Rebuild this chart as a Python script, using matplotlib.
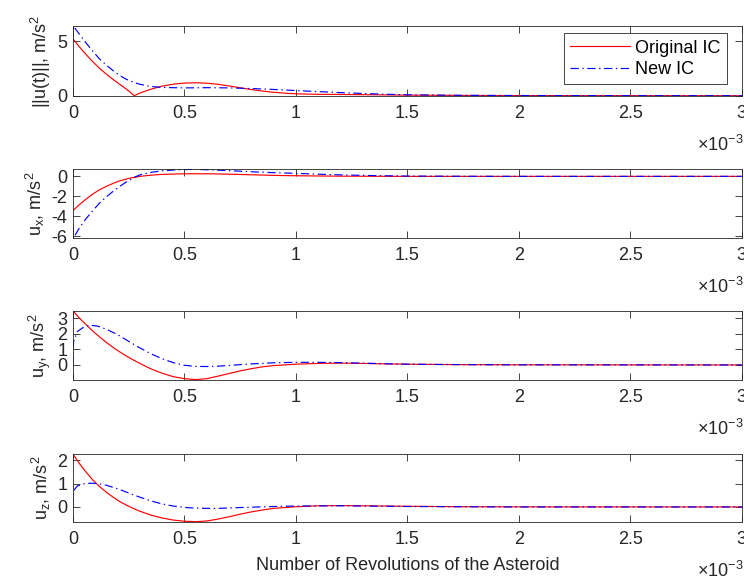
import numpy as np
import matplotlib
matplotlib.use("Agg")
import matplotlib.pyplot as plt
from matplotlib.ticker import FuncFormatter

plt.rcParams['font.family'] = ['Liberation Sans', 'DejaVu Sans']
plt.rcParams['mathtext.fontset'] = 'custom'
plt.rcParams['mathtext.rm'] = 'Liberation Sans'
plt.rcParams['mathtext.default'] = 'regular'
plt.rcParams['axes.unicode_minus'] = False

SCALE = 1e-3  # time axis is in revolutions, ticks shown in units of 1e-3

# ||u(t)||
t_norm_orig = [0, 0.02, 0.04, 0.06, 0.08, 0.10, 0.12, 0.14, 0.17, 0.21, 0.25, 0.275, 0.30,
               0.35, 0.40, 0.45, 0.50, 0.55, 0.60, 0.65, 0.70, 0.75, 0.80, 0.85, 0.90, 0.95,
               1.00, 1.10, 1.20, 1.30, 1.40, 1.50, 1.75, 2.0, 2.5, 3.0]
norm_orig = [5.2, 4.7, 4.2, 3.75, 3.3, 2.9, 2.5, 2.15, 1.65, 1.05, 0.45, 0.0, 0.25,
             0.6, 0.88, 1.06, 1.16, 1.19, 1.15, 1.05, 0.9, 0.73, 0.57, 0.43, 0.32, 0.24,
             0.18, 0.13, 0.12, 0.1, 0.08, 0.06, 0.03, 0.02, 0.01, 0.005]
t_norm_new = [0, 0.003, 0.03, 0.06, 0.09, 0.12, 0.15, 0.18, 0.21, 0.24, 0.27, 0.30, 0.35, 0.40,
              0.50, 0.60, 0.70, 0.80, 0.90, 1.00, 1.10, 1.20, 1.30, 1.40, 1.50, 1.75, 2.0,
              2.5, 3.0]
norm_new = [5.0, 6.35, 5.6, 4.8, 4.05, 3.35, 2.8, 2.3, 1.85, 1.5, 1.25, 1.05, 0.85, 0.76,
            0.72, 0.74, 0.72, 0.66, 0.58, 0.48, 0.38, 0.29, 0.21, 0.14, 0.09, 0.04, 0.02,
            0.01, 0.005]

# u_x
t_ux_orig = [0, 0.03, 0.06, 0.09, 0.12, 0.15, 0.18, 0.21, 0.25, 0.30, 0.35, 0.40, 0.50, 0.60,
             0.70, 0.80, 0.90, 1.00, 1.20, 1.50, 3.0]
ux_orig = [-3.42, -2.8, -2.25, -1.75, -1.33, -1.0, -0.7, -0.45, -0.2, 0.0, 0.12, 0.2, 0.26,
           0.26, 0.22, 0.16, 0.1, 0.06, 0.02, 0.0, 0.0]
t_ux_new = [0, 0.003, 0.03, 0.06, 0.09, 0.12, 0.15, 0.18, 0.21, 0.24, 0.27, 0.30, 0.35, 0.40,
            0.45, 0.50, 0.55, 0.60, 0.70, 0.80, 0.90, 1.00, 1.10, 1.20, 1.30, 1.40, 1.50,
            1.75, 2.0, 3.0]
ux_new = [-4.8, -6.15, -5.1, -4.2, -3.4, -2.65, -2.05, -1.5, -1.0, -0.55, -0.15, 0.15, 0.4,
          0.55, 0.63, 0.68, 0.7, 0.66, 0.57, 0.46, 0.37, 0.3, 0.22, 0.15, 0.1, 0.06, 0.03,
          0.01, 0.0, 0.0]

# u_y
t_uy_orig = [0, 0.03, 0.06, 0.09, 0.12, 0.15, 0.18, 0.21, 0.24, 0.27, 0.30, 0.35, 0.40, 0.45,
             0.50, 0.55, 0.60, 0.65, 0.70, 0.75, 0.80, 0.85, 0.90, 1.00, 1.10, 1.20, 1.30,
             1.40, 1.50, 1.75, 2.0, 3.0]
uy_orig = [3.47, 3.0, 2.58, 2.17, 1.8, 1.45, 1.13, 0.84, 0.57, 0.33, 0.1, -0.25, -0.53,
           -0.75, -0.88, -0.94, -0.88, -0.72, -0.55, -0.38, -0.24, -0.12, -0.04, 0.05, 0.1,
           0.12, 0.1, 0.07, 0.05, 0.02, 0.01, 0.0]
t_uy_new = [0, 0.003, 0.02, 0.05, 0.08, 0.11, 0.15, 0.20, 0.25, 0.30, 0.35, 0.40, 0.45, 0.50,
            0.55, 0.60, 0.65, 0.70, 0.80, 0.90, 1.00, 1.10, 1.20, 1.30, 1.40, 1.50, 1.75,
            2.0, 3.0]
uy_new = [0.0, 1.5, 2.15, 2.45, 2.55, 2.5, 2.3, 1.95, 1.52, 1.1, 0.72, 0.4, 0.15, -0.02,
          -0.09, -0.1, -0.08, -0.03, 0.07, 0.14, 0.17, 0.17, 0.15, 0.12, 0.08, 0.05, 0.02,
          0.01, 0.0]

# u_z
t_uz_orig = [0, 0.03, 0.06, 0.09, 0.12, 0.15, 0.18, 0.21, 0.24, 0.27, 0.30, 0.35, 0.40, 0.45,
             0.50, 0.55, 0.60, 0.65, 0.70, 0.75, 0.80, 0.85, 0.90, 1.00, 1.10, 1.20, 1.30,
             1.40, 1.50, 1.75, 2.0, 3.0]
uz_orig = [2.27, 1.85, 1.48, 1.15, 0.87, 0.63, 0.42, 0.23, 0.08, -0.06, -0.18, -0.35, -0.47,
           -0.56, -0.61, -0.63, -0.6, -0.52, -0.42, -0.31, -0.21, -0.13, -0.06, 0.01, 0.05,
           0.06, 0.05, 0.04, 0.03, 0.01, 0.005, 0.0]
t_uz_new = [0, 0.003, 0.02, 0.05, 0.08, 0.11, 0.15, 0.20, 0.25, 0.30, 0.35, 0.40, 0.45, 0.50,
            0.55, 0.60, 0.65, 0.70, 0.80, 0.90, 1.00, 1.20, 1.40, 1.50, 1.75, 2.0, 3.0]
uz_new = [0.0, 0.7, 0.9, 0.99, 1.02, 1.0, 0.93, 0.78, 0.6, 0.42, 0.26, 0.13, 0.04, -0.02,
          -0.05, -0.06, -0.06, -0.04, -0.01, 0.02, 0.04, 0.05, 0.03, 0.02, 0.01, 0.0, 0.0]

panels = [
    (t_norm_orig, norm_orig, t_norm_new, norm_new, r'||u(t)||, m/s$^2$', [0, 5]),
    (t_ux_orig, ux_orig, t_ux_new, ux_new, r'u$_x$, m/s$^2$', [-6, -4, -2, 0]),
    (t_uy_orig, uy_orig, t_uy_new, uy_new, r'u$_y$, m/s$^2$', [0, 1, 2, 3]),
    (t_uz_orig, uz_orig, t_uz_new, uz_new, r'u$_z$, m/s$^2$', [0, 1, 2]),
]
x_ticks = [0, 0.5, 1, 1.5, 2, 2.5, 3]

# [left, bottom, width, height] in figure fraction
boxes = [
    [0.098, 0.836, 0.899, 0.119],
    [0.098, 0.5925, 0.899, 0.1175],
    [0.098, 0.350, 0.899, 0.1175],
    [0.098, 0.1067, 0.899, 0.116],
]

FS = 13
DARK = '#262626'
DASHDOT = (0, (7, 3, 1.2, 3))

fig = plt.figure(figsize=(7.44, 5.84), dpi=100)

for i, ((t1, y1, t2, y2, ylab, yt), box) in enumerate(zip(panels, boxes)):
    ax = fig.add_axes(box)
    l1, = ax.plot(np.array(t1) * SCALE, y1, color='red', lw=0.85, label='Original IC')
    l2, = ax.plot(np.array(t2) * SCALE, y2, color='blue', lw=0.85, ls=DASHDOT, label='New IC')
    ax.margins(x=0, y=0)
    ax.set_xlim(0, 3 * SCALE)
    ax.set_xticks(np.array(x_ticks) * SCALE)
    ax.xaxis.set_major_formatter(FuncFormatter(lambda v, p: f"{v / SCALE:g}"))
    ax.set_yticks(yt)
    ax.tick_params(direction='in', top=True, right=True, length=5, width=0.6,
                   labelsize=FS, colors=DARK)
    ax.tick_params(axis='x', pad=6.5)
    ax.tick_params(axis='y', pad=4)
    for s in ax.spines.values():
        s.set_color(DARK)
        s.set_linewidth(0.6)
    ax.set_ylabel(ylab, fontsize=FS, color=DARK, labelpad=3)
    ax.annotate(r'$\times$10$^{-3}$', xy=(1, 0), xycoords='axes fraction',
                xytext=(2, -39), textcoords='offset pixels', ha='right', va='top',
                fontsize=FS, color=DARK)
    if i == 0:
        leg = ax.legend(handles=[l1, l2], loc='upper right', bbox_to_anchor=(0.978, 0.9),
                        borderaxespad=0, fontsize=FS, fancybox=False, framealpha=1,
                        edgecolor=DARK, handlelength=3.3, handletextpad=0.3,
                        labelspacing=0.25, borderpad=0.35)
        leg.get_frame().set_linewidth(0.6)
    if i == 3:
        ax.set_xlabel('Number of Revolutions of the Asteroid', fontsize=FS, color=DARK,
                      labelpad=7)

fig.savefig('out.png', dpi=100)
